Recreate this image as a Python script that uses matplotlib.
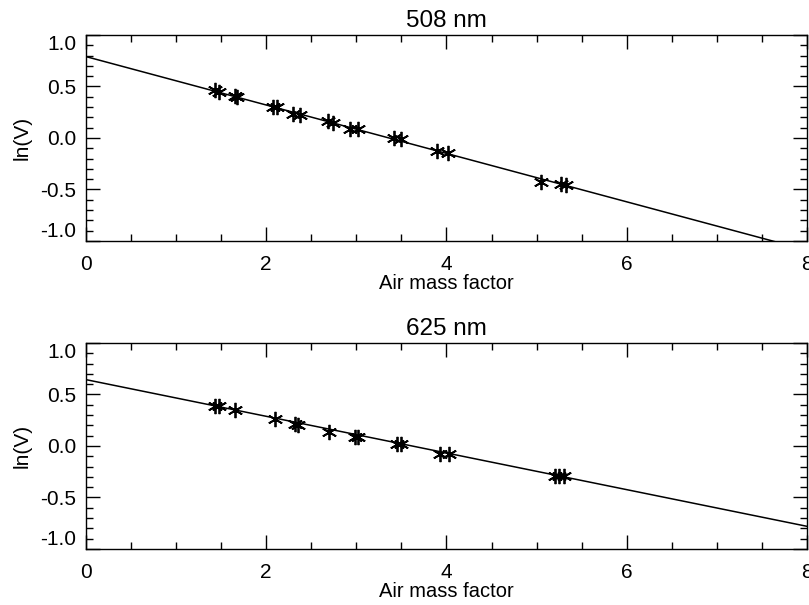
import numpy as np
import matplotlib.pyplot as plt
from matplotlib.ticker import MultipleLocator

plt.rcParams['font.family'] = ['Liberation Sans', 'DejaVu Sans']

# 508 nm measurements
amf_508 = [1.43, 1.48, 1.65, 1.67, 2.08, 2.12, 2.30, 2.38, 2.68, 2.74,
           2.93, 3.02, 3.42, 3.50, 3.90, 4.02, 5.05, 5.27, 5.33]
lnv_508 = [0.47, 0.45, 0.41, 0.40, 0.30, 0.30, 0.23, 0.22, 0.16, 0.15,
           0.09, 0.09, 0.00, -0.01, -0.13, -0.15, -0.43, -0.45, -0.46]
fit_508 = (0.79, -0.235)   # intercept, slope

# 625 nm measurements
amf_625 = [1.43, 1.48, 1.65, 2.10, 2.32, 2.35, 2.70, 2.98, 3.02,
           3.45, 3.50, 3.93, 4.03, 5.20, 5.25, 5.30]
lnv_625 = [0.39, 0.39, 0.35, 0.26, 0.21, 0.20, 0.14, 0.09, 0.09,
           0.02, 0.02, -0.08, -0.08, -0.29, -0.29, -0.29]
fit_625 = (0.644, -0.178)

panels = [("508 nm", amf_508, lnv_508, fit_508, [0.1063, 0.6017, 0.8912, 0.3405]),
          ("625 nm", amf_625, lnv_625, fit_625, [0.1063, 0.0926, 0.8912, 0.3405])]

fig = plt.figure(figsize=(8.09, 6.05), dpi=100)

for title, x, y, fit, pos in panels:
    ax = fig.add_axes(pos)
    xx = np.array([0, 8])
    ax.plot(xx, fit[0] + fit[1] * xx, color='black', lw=1.1)
    ax.plot(x, y, ls='none', marker=(6, 2, 0), ms=11, mec='black', mew=1.3)
    ax.set_xlim(0, 8)
    ax.set_ylim(-1, 1)
    ax.xaxis.set_major_locator(MultipleLocator(2))
    ax.xaxis.set_minor_locator(MultipleLocator(0.5))
    ax.yaxis.set_major_locator(MultipleLocator(0.5))
    ax.yaxis.set_minor_locator(MultipleLocator(0.1))
    ax.tick_params(which='both', direction='in', top=True, right=True, labelsize=15, width=1)
    ax.tick_params(which='major', length=10)
    ax.tick_params(which='minor', length=5)
    ax.tick_params(axis='x', pad=10)
    ax.tick_params(axis='y', pad=7)
    ax.set_yticks([-1, -0.5, 0, 0.5, 1])
    ax.set_yticklabels(['-1.0', '-0.5', '0.0', '0.5', '1.0'])
    labs = ax.get_yticklabels()
    labs[0].set_va('bottom')
    labs[-1].set_va('top')
    ax.set_title(title, fontsize=17.5, pad=6)
    ax.set_xlabel('Air mass factor', fontsize=14.5, labelpad=0)
    ax.set_ylabel('ln(V)', fontsize=15, labelpad=6)
    for s in ax.spines.values():
        s.set_linewidth(1)

fig.savefig('out.png', dpi=100)
